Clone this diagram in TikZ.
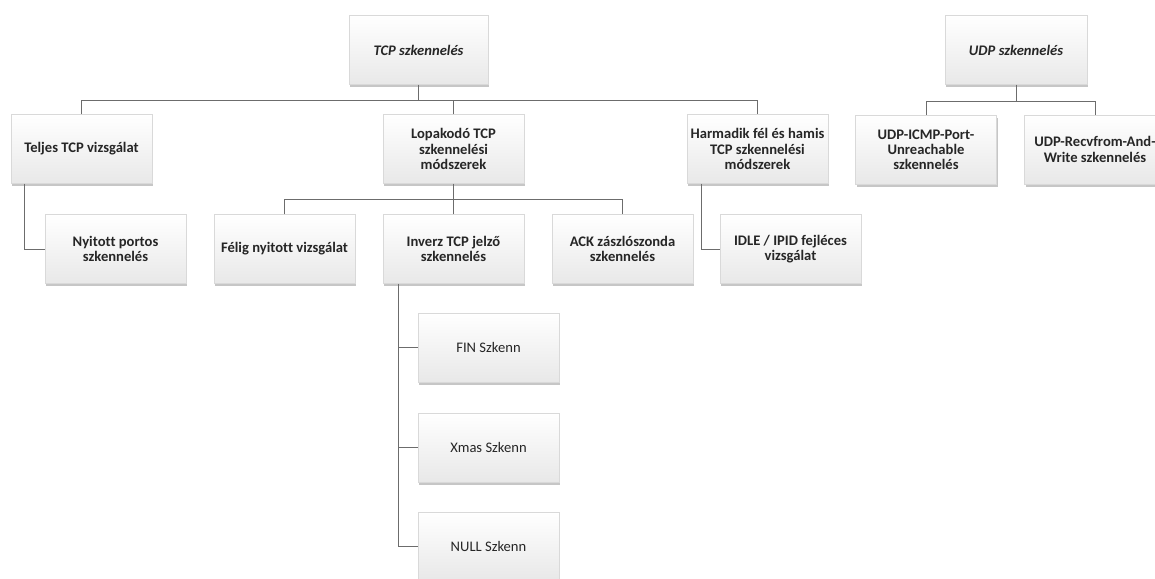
\documentclass[tikz,border=0pt]{standalone}
\usepackage{fontspec}
\setmainfont{Carlito}[Ligatures=NoCommon]
\usetikzlibrary{shadows,calc}
\begin{document}
\begin{tikzpicture}[x=1pt,y=-1pt,
  box/.style={rectangle, draw=gray!30, line width=0.4pt,
    top color=white, bottom color=gray!18,
    minimum width=141pt, minimum height=69pt, inner sep=1pt, align=center,
    font=\fontsize{14.6}{15.2}\selectfont\bfseries, text=black!85,
    drop shadow={shadow xshift=1pt, shadow yshift=-2.5pt, opacity=0.45, fill=gray}},
  topbox/.style={box, font=\fontsize{14.6}{15.2}\selectfont\bfseries\itshape},
  leaf/.style={box, font=\fontsize{14.6}{15.2}\selectfont},
  link/.style={draw=gray!85!black, line width=0.9pt}]
\useasboundingbox (0,0) rectangle (1155,578);

% top level
\node[topbox, minimum width=139pt] (tcp) at (418.5,50) {TCP szkennelés};
\node[topbox, minimum width=142pt] (udp) at (1016,50) {UDP szkennelés};

% TCP methods
\node[box] (teljes) at (81.5,149) {Teljes TCP vizsgálat};
\node[box] (lopa) at (453.5,149) {Lopakodó TCP\\szkennelési\\módszerek};
\node[box] (harm) at (757.5,149) {Harmadik fél és hamis\\TCP szkennelési\\módszerek};

\node[box] (nyit) at (115.5,249) {Nyitott portos\\szkennelés};
\node[box] (felig) at (284.5,249) {Félig nyitott vizsgálat};
\node[box] (inverz) at (453.5,249) {Inverz TCP jelző\\szkennelés};
\node[box] (ack) at (622.5,249) {ACK zászlószonda\\szkennelés};
\node[box] (idle) at (790.5,249) {IDLE / IPID fejléces\\vizsgálat};

\node[leaf] (fin) at (488.5,347.5) {FIN Szkenn};
\node[leaf] (xmas) at (488.5,447.5) {Xmas Szkenn};
\node[leaf] (null) at (488.5,546.5) {NULL Szkenn};

% UDP methods
\node[box] (icmp) at (926,149.5) {UDP-ICMP-Port-\\Unreachable\\szkennelés};
\node[box] (recv) at (1095,149.5) {UDP-Recvfrom-And-\\Write szkennelés};

% connectors
\coordinate (busA) at (0,100);
\coordinate (busB) at (0,199);
\coordinate (busC) at (0,101);

\draw[link] (tcp.south) -- (tcp.south |- busA);
\draw[link] (teljes.north) |- (busA -| harm.north) -- (harm.north);
\draw[link] (lopa.north) -- (lopa.north |- busA);

\draw[link] (lopa.south) -- (lopa.south |- busB);
\draw[link] (felig.north) |- (busB -| ack.north) -- (ack.north);
\draw[link] (inverz.north) -- (inverz.north |- busB);

\draw[link] ($(teljes.south west)+(14,0)$) |- (nyit.west);
\draw[link] ($(harm.south west)+(15,0)$) |- (idle.west);

\coordinate (inv) at ($(inverz.south west)+(15.5,0)$);
\draw[link] (inv) |- (null.west);
\draw[link] (inv |- fin.west) -- (fin.west);
\draw[link] (inv |- xmas.west) -- (xmas.west);

\draw[link] (udp.south) -- (udp.south |- busC);
\draw[link] (icmp.north) |- (busC -| recv.north) -- (recv.north);
\end{tikzpicture}
\end{document}
